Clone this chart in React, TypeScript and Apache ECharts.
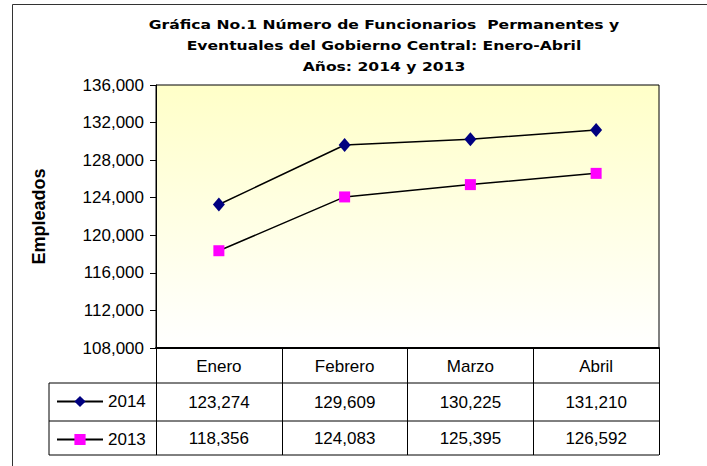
import React, { useEffect, useRef } from "react";
import * as echarts from "echarts";

const titleLines = [
  "Gráfica No.1 Número de Funcionarios  Permanentes y",
  "Eventuales del Gobierno Central: Enero-Abril",
  "Años: 2014 y 2013",
];
const categories = ["Enero", "Febrero", "Marzo", "Abril"];
const seriesNames = ["2014", "2013"];
const values2014 = [123274, 129609, 130225, 131210];
const values2013 = [118356, 124083, 125395, 126592];
const yMin = 108000;
const yMax = 136000;
const yStep = 4000;
const yAxisName = "Empleados";

const FONT = "'Liberation Sans', Arial, sans-serif";
const TITLE_FONT = "'DejaVu Sans', 'Liberation Sans', sans-serif";
const fmt = (v: number) => v.toLocaleString("en-US");

export default function App() {
  const ref = useRef<HTMLDivElement>(null);
  useEffect(() => {
    if (!ref.current) return;
    const chart = echarts.init(ref.current, null, { renderer: "svg" });
    const W = 707, H = 466;
    const gl = 156, gr = 659, gt = 85, gb = 348;
    const rowA = 383, rowB = 421, rowC = 455, legL = 49;
    chart.setOption({
      animation: false,
      backgroundColor: "#fff",
      textStyle: { fontFamily: FONT },
      grid: {
        left: gl, right: W - gr, top: gt, bottom: H - gb,
        show: true,
        borderColor: "#000",
        borderWidth: 1,
        backgroundColor: new echarts.graphic.LinearGradient(0, 0, 0, 1, [
          { offset: 0, color: "#FFFFC8" },
          { offset: 1, color: "#FFFFFF" },
        ]),
      },
      legend: {
        data: seriesNames,
        orient: "vertical",
        left: 51,
        top: 388,
        itemWidth: 46,
        itemHeight: 14,
        itemGap: 21,
        textStyle: { fontSize: 17, lineHeight: 14, color: "#000", fontFamily: FONT },
      },
      xAxis: {
        type: "category",
        data: categories,
        boundaryGap: true,
        axisLine: { lineStyle: { color: "#000", width: 2 } },
        axisTick: { show: true, length: rowC - gb, lineStyle: { color: "#000", width: 1 }, interval: 0 },
        axisLabel: {
          margin: 0,
          interval: 0,
          formatter: (v: string, i: number) =>
            `{h|${v}}\n{v|${fmt(values2014[i])}}\n{v|${fmt(values2013[i])}}`,
          rich: {
            h: { fontSize: 17, lineHeight: 36, color: "#000", fontFamily: FONT },
            v: { fontSize: 17, lineHeight: 36, color: "#000", fontFamily: FONT },
          },
        },
      },
      yAxis: {
        type: "value",
        min: yMin,
        max: yMax,
        interval: yStep,
        name: yAxisName,
        nameLocation: "middle",
        nameGap: 108,
        nameTextStyle: { fontSize: 18, fontWeight: "bold", color: "#000", fontFamily: FONT },
        axisLine: { show: true, lineStyle: { color: "#000", width: 1 } },
        axisTick: { show: true, length: 6, lineStyle: { color: "#000" } },
        splitLine: { show: false },
        axisLabel: {
          formatter: (v: number) => fmt(v),
          fontSize: 17,
          color: "#000",
          margin: 12,
          fontFamily: FONT,
        },
      },
      series: [
        {
          name: seriesNames[0],
          type: "line",
          data: values2014,
          symbol: "diamond",
          symbolSize: [12, 14],
          lineStyle: { color: "#000", width: 1.5 },
          itemStyle: { color: "#000080" },
        },
        {
          name: seriesNames[1],
          type: "line",
          data: values2013,
          symbol: "rect",
          symbolSize: 11,
          lineStyle: { color: "#000", width: 1.5 },
          itemStyle: { color: "#FF00FF" },
        },
      ],
      graphic: [
        { type: "rect", shape: { x: 12.5, y: 4.5, width: 720, height: 500 }, style: { fill: "none", stroke: "#333", lineWidth: 1 }, silent: true },
        { type: "line", shape: { x1: legL, y1: rowA, x2: gr, y2: rowA }, style: { stroke: "#000", lineWidth: 1 } },
        { type: "line", shape: { x1: legL, y1: rowB, x2: gr, y2: rowB }, style: { stroke: "#000", lineWidth: 1 } },
        { type: "line", shape: { x1: legL, y1: rowC, x2: gr, y2: rowC }, style: { stroke: "#000", lineWidth: 1 } },
        { type: "line", shape: { x1: legL, y1: rowA, x2: legL, y2: rowC }, style: { stroke: "#000", lineWidth: 1 } },
        ...titleLines.map((t, i) => ({
          type: "text",
          x: 384,
          y: 24 + i * 21,
          scaleX: 1.2,
          style: {
            text: t,
            fontSize: 13,
            fontWeight: "bold",
            fontFamily: TITLE_FONT,
            fill: "#000",
            align: "center",
            verticalAlign: "middle",
          },
        })),
      ],
    });
    return () => chart.dispose();
  }, []);
  return <div ref={ref} style={{ position: "fixed", left: 0, top: 0, width: 707, height: 466 }} />;
}
